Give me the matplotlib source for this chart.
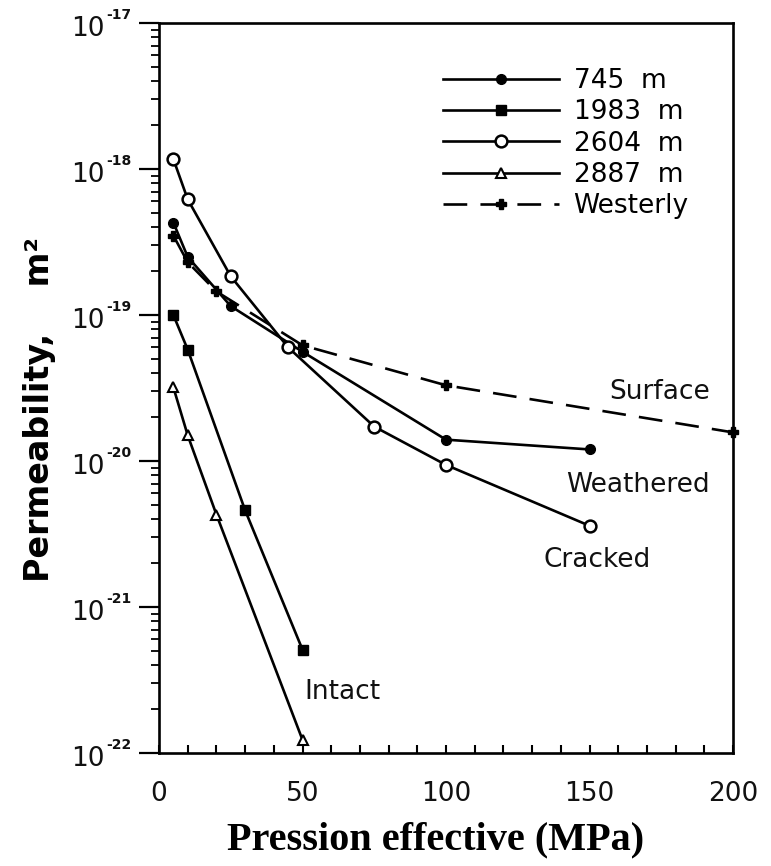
import numpy as np
import matplotlib
matplotlib.use('Agg')
import matplotlib.pyplot as plt
from matplotlib.ticker import LogLocator, MultipleLocator, NullFormatter

plt.rcParams['font.family'] = ['DejaVu Sans']

# permeability (m^2) against effective pressure (MPa)
p_745 = [5, 10, 25, 50, 100, 150]
k_745 = [4.3e-19, 2.5e-19, 1.15e-19, 5.6e-20, 1.4e-20, 1.2e-20]

p_1983 = [5, 10, 30, 50]
k_1983 = [1.0e-19, 5.8e-20, 4.6e-21, 5.1e-22]

p_2604 = [5, 10, 25, 45, 75, 100, 150]
k_2604 = [1.17e-18, 6.2e-19, 1.84e-19, 6.0e-20, 1.72e-20, 9.4e-21, 3.6e-21]

p_2887 = [5, 10, 20, 50]
k_2887 = [3.2e-20, 1.5e-20, 4.3e-21, 1.23e-22]

p_west = [5, 10, 20, 50, 100, 200]
k_west = [3.5e-19, 2.3e-19, 1.45e-19, 6.2e-20, 3.3e-20, 1.57e-20]

labels = ['745  m', '1983  m', '2604  m', '2887  m', 'Westerly']
decades = [-22, -21, -20, -19, -18, -17]

# zone names: (text, pressure, permeability)
zones = [('Surface', 157, 2.95e-20),
         ('Weathered', 142, 6.9e-21),
         ('Cracked', 134, 2.1e-21),
         ('Intact', 50.5, 2.6e-22)]

W, H = 771, 866
fig = plt.figure(figsize=(W / 100, H / 100), dpi=100)
ax = fig.add_axes([159 / W, 1 - 753 / H, (733 - 159) / W, (753 - 23) / H])

lw = 1.9
ax.plot(p_745, k_745, '-', color='k', lw=lw, marker='o', ms=7,
        mfc='k', mec='k', label=labels[0], clip_on=False)
ax.plot(p_1983, k_1983, '-', color='k', lw=lw, marker='s', ms=7,
        mfc='k', mec='k', label=labels[1], clip_on=False)
ax.plot(p_2604, k_2604, '-', color='k', lw=lw, marker='o', ms=8.5,
        mfc='white', mec='k', mew=1.8, label=labels[2], clip_on=False)
ax.plot(p_2887, k_2887, '-', color='k', lw=lw, marker='^', ms=7,
        mfc='white', mec='k', mew=1.5, label=labels[3], clip_on=False)
ax.plot(p_west, k_west, color='k', lw=lw, ls=(0, (9, 5)), marker='P',
        ms=7, mfc='k', mec='k', label=labels[4], clip_on=False)

for name, x, y in zones:
    ax.text(x, y, name, fontsize=19, ha='left', va='center', color='#111111')

ax.set_yscale('log')
ax.set_xlim(0, 200)
ax.set_ylim(1e-22, 1e-17)

ax.xaxis.set_major_locator(MultipleLocator(50))
ax.xaxis.set_minor_locator(MultipleLocator(10))
ax.yaxis.set_major_locator(LogLocator(base=10, numticks=10))
ax.yaxis.set_minor_locator(LogLocator(base=10, subs=np.arange(2, 10), numticks=10))
ax.yaxis.set_major_formatter(NullFormatter())
ax.yaxis.set_minor_formatter(NullFormatter())

ax.tick_params(axis='x', which='both', direction='in', length=6, width=1.5,
               top=False, labelsize=19, pad=20, labelcolor='#111111')
ax.tick_params(axis='y', which='major', direction='out', length=14.5, width=1.6,
               right=False)
ax.tick_params(axis='y', which='minor', direction='out', length=6, width=1.3,
               right=False)

# decade labels: "10" with a small raised exponent
ytr = ax.get_yaxis_transform()
for e in decades:
    ax.annotate('10', xy=(0, 10.0 ** e), xycoords=ytr, xytext=(-39, -4),
                textcoords='offset points', ha='right', va='center',
                fontsize=19, color='#111111', annotation_clip=False)
    ax.annotate(f'-{-e}', xy=(0, 10.0 ** e), xycoords=ytr, xytext=(-38, 6),
                textcoords='offset points', ha='left', va='center',
                fontsize=10, fontweight='bold', color='#111111',
                annotation_clip=False)

for s in ax.spines.values():
    s.set_linewidth(1.9)

leg = ax.legend(loc='upper left', bbox_to_anchor=(443 / W, 1 - 68 / H),
                bbox_transform=fig.transFigure, frameon=False, fontsize=19,
                handlelength=4.4, handletextpad=0.55, labelspacing=0.2,
                borderpad=0, borderaxespad=0, numpoints=1)

fig.text(40 / W, 1 - 410 / H, 'Permeability,    m²', rotation=90,
         ha='center', va='center', fontsize=24, fontweight='bold')
fig.text(436 / W, 1 - 840 / H, 'Pression effective (MPa)', ha='center',
         va='center', fontsize=29, fontweight='bold', family='Liberation Serif')

fig.savefig('out.png', dpi=100, facecolor='white')
